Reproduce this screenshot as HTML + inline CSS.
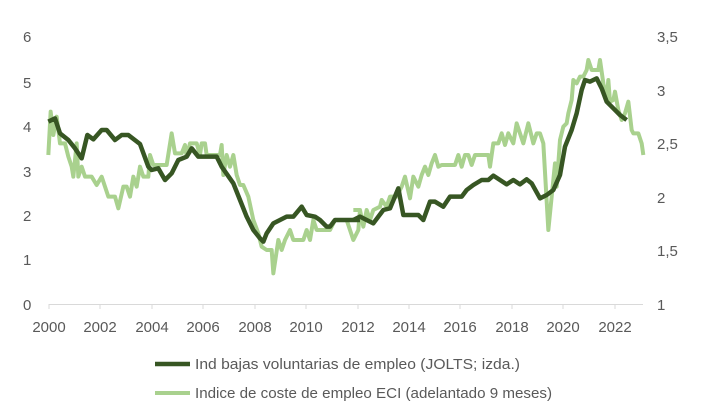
<!DOCTYPE html>
<html><head><meta charset="utf-8"><style>
html,body{margin:0;padding:0;background:#fff;}
svg text{font-family:"Liberation Sans",sans-serif;fill:#595959;font-size:15px;}
</style></head><body>
<svg width="716" height="415" viewBox="0 0 716 415" xmlns="http://www.w3.org/2000/svg">
<line x1="49" y1="304.5" x2="643" y2="304.5" stroke="#d9d9d9" stroke-width="1"/>
<g stroke="#d9d9d9">
<line x1="49" y1="304" x2="49" y2="309"/><line x1="100" y1="304" x2="100" y2="309"/><line x1="152" y1="304" x2="152" y2="309"/><line x1="203" y1="304" x2="203" y2="309"/><line x1="255" y1="304" x2="255" y2="309"/><line x1="306" y1="304" x2="306" y2="309"/><line x1="358" y1="304" x2="358" y2="309"/><line x1="409" y1="304" x2="409" y2="309"/><line x1="460" y1="304" x2="460" y2="309"/><line x1="512" y1="304" x2="512" y2="309"/><line x1="563" y1="304" x2="563" y2="309"/><line x1="615" y1="304" x2="615" y2="309"/>
</g>
<g text-anchor="middle">
<text x="49" y="332">2000</text><text x="100" y="332">2002</text><text x="152" y="332">2004</text><text x="203" y="332">2006</text><text x="255" y="332">2008</text><text x="306" y="332">2010</text><text x="358" y="332">2012</text><text x="409" y="332">2014</text><text x="460" y="332">2016</text><text x="512" y="332">2018</text><text x="563" y="332">2020</text><text x="615" y="332">2022</text>
</g>
<g>
<text x="23" y="42">6</text><text x="23" y="88">5</text><text x="23" y="132">4</text><text x="23" y="177">3</text><text x="23" y="221">2</text><text x="23" y="265">1</text><text x="23" y="310">0</text>
</g>
<g>
<text x="657" y="42">3,5</text><text x="657" y="96">3</text><text x="657" y="149">2,5</text><text x="657" y="203">2</text><text x="657" y="256">1,5</text><text x="657" y="310">1</text>
</g>
<g transform="translate(0,20) scale(0.33333)" fill="none" stroke-linejoin="round">
<polyline vector-effect="non-scaling-stroke" stroke="#a9d18e" stroke-width="4" points="145,405 152,275 160,345 170,290 180,370 195,370 205,410 215,440 220,470 230,370 235,470 245,440 255,470 275,470 290,495 305,470 315,500 325,530 345,530 355,565 370,500 380,500 390,530 400,470 410,500 420,440 430,470 445,470 450,405 460,435 500,435 515,340 525,400 545,400 555,375 560,410 570,370 590,370 600,405 605,370 615,370 620,405 660,405 665,375 670,465 680,405 690,440 700,405 710,465 720,495 730,495 745,530 760,600 775,640 785,680 800,690 815,690 820,760 835,660 845,690 855,660 870,630 880,660 910,660 920,630 930,660 940,600 950,630 960,630 990,630 1005,600 1040,600 1050,630 1060,660 1075,630 1080,570"/>
<polyline vector-effect="non-scaling-stroke" stroke="#375623" stroke-width="4.5" points="145,305 165,295 180,340 205,360 225,385 245,415 262,345 280,358 305,330 320,330 345,360 365,345 385,345 420,372 445,440 455,450 475,445 495,480 515,460 535,420 560,410 575,385 595,410 650,410 665,440 700,490 720,540 740,590 760,630 780,655 790,665 800,640 820,610 840,600 860,590 880,590 905,560 920,585 945,590 960,600 980,620 990,620 1005,600 1080,600"/>
</g>
<g transform="translate(360,20) scale(0.33333)" fill="none" stroke-linejoin="round">
<polyline vector-effect="non-scaling-stroke" stroke="#a9d18e" stroke-width="4" points="-20,570 0,570 10,620 20,570 30,600 40,570 60,560 65,540 80,560 90,530 110,530 125,500 135,470 150,535 160,470 175,500 185,465 195,440 205,465 215,430 225,405 235,440 245,435 285,435 295,405 305,440 315,405 325,405 335,435 345,405 385,405 390,440 400,370 415,370 425,340 435,375 445,340 460,370 470,310 480,340 490,370 505,310 520,370 530,340 540,340 550,370 565,630 575,530 585,430 590,500 600,360 610,320 620,310 625,280 635,240 640,180 650,190 660,170 670,170 680,150 685,120 695,150 715,150 720,120 730,190 740,240 745,180 750,245 760,240 765,215 775,270 785,300 795,280 805,245 815,330 820,340 835,340 845,370 850,405"/>
<polyline vector-effect="non-scaling-stroke" stroke="#375623" stroke-width="4.5" points="-20,600 0,590 40,610 70,570 90,565 115,505 130,585 175,585 190,600 210,545 225,545 250,560 270,530 305,530 320,510 340,495 365,480 385,480 400,467 420,480 440,493 460,480 480,493 500,478 515,490 540,535 560,525 580,510 600,465 615,380 635,330 650,280 665,210 675,180 690,185 710,175 725,205 740,245 760,265 780,285 800,300"/>
</g>
<line x1="155" y1="364" x2="190" y2="364" stroke="#375623" stroke-width="4.5"/>
<text x="195" y="369" textLength="325" lengthAdjust="spacingAndGlyphs">Ind bajas voluntarias de empleo (JOLTS; izda.)</text>
<line x1="155" y1="393" x2="190" y2="393" stroke="#a9d18e" stroke-width="4"/>
<text x="195" y="398" textLength="357" lengthAdjust="spacingAndGlyphs">Indice de coste de empleo  ECI (adelantado 9 meses)</text>
</svg>
</body></html>
